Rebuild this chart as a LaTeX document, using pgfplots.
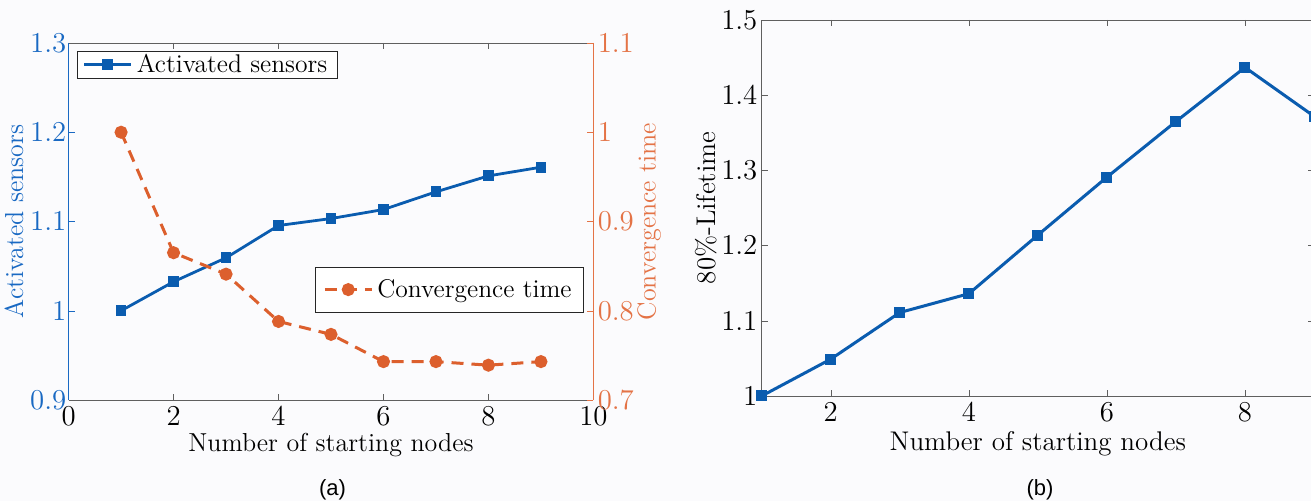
\documentclass[border=0pt]{standalone}
\usepackage{fontspec}
\usepackage{pgfplots}
\pgfplotsset{compat=1.18}
\newfontfamily\arial{Liberation Sans}
\definecolor{lblue}{RGB}{10,92,175}
\definecolor{tblue}{RGB}{25,105,195}
\definecolor{lorange}{RGB}{220,95,45}
\definecolor{torange}{RGB}{228,115,70}
\definecolor{bg}{RGB}{251,251,253}
\definecolor{spine}{RGB}{95,95,95}
\pgfplotsset{
  mystyle/.style={
    scale only axis,
    tick align=inside,
    major tick length=3pt,
    tick label style={font=\fontsize{14.5}{16}\selectfont},
    legend style={font=\fontsize{12.8}{15}\selectfont},
    legend cell align=left,
    legend image code/.code={\draw[mark repeat=2,mark phase=2,##1] plot coordinates {(0pt,0pt) (11.75pt,0pt) (23.5pt,0pt)};},
  }
}
\begin{document}
\begin{tikzpicture}
\fill[bg] (0,0) rectangle (655.5pt,250.5pt);
\useasboundingbox (0,0) rectangle (655.5pt,250.5pt);

% ---------- panel (a), left axis ----------
\begin{axis}[mystyle,
  at={(34.3pt,50.5pt)}, anchor=south west, width=262.4pt, height=178.5pt,
  xmin=0, xmax=10, ymin=0.9, ymax=1.3,
  xtick={0,2,4,6,8,10}, ytick={0.9,1,1.1,1.2,1.3},
  axis x line=box, axis y line*=left,
  x axis line style={draw=spine},
  y axis line style={draw=tblue},
  y tick style={tblue},
  x tick style={spine},
  yticklabel style={text=tblue, inner xsep=1pt},
  xlabel={Number of starting nodes},
  every axis x label/.style={at={(axis description cs:0.5,-0.145)}, anchor=base, font=\fontsize{13}{15}\selectfont},
  ylabel={Activated sensors},
  every axis y label/.style={at={(axis description cs:-0.104,0.5)}, anchor=center, rotate=90, font=\fontsize{13}{15}\selectfont, text=tblue},
  legend style={at={(0.0152,0.978)}, anchor=north west, draw=black!85, fill=white,
    inner xsep=3pt, inner ysep=0pt, nodes={inner ysep=1.5pt}},
]
\addplot[lblue, line width=1.4pt, mark=square*, mark size=2pt, mark options={solid}]
 coordinates {(1,1.000) (2,1.0325) (3,1.0593) (4,1.0955) (5,1.1033) (6,1.1134) (7,1.1332) (8,1.1511) (9,1.1608)};
\addlegendentry{Activated sensors}
\end{axis}

% ---------- panel (a), right axis ----------
\begin{axis}[mystyle,
  at={(34.3pt,50.5pt)}, anchor=south west, width=262.4pt, height=178.5pt,
  xmin=0, xmax=10, ymin=0.7, ymax=1.1,
  ytick={0.7,0.8,0.9,1,1.1},
  axis x line=none, axis y line*=right,
  y axis line style={draw=torange},
  y tick style={torange},
  yticklabel style={text=torange, inner xsep=2pt},
  ylabel={Convergence time},
  every axis y label/.style={at={(axis description cs:1.106,0.5)}, anchor=center, rotate=90, font=\fontsize{13}{15}\selectfont, text=torange},
  legend style={at={(0.982,0.3734)}, anchor=north east, draw=black!85, fill=white,
    inner xsep=4pt, inner ysep=3.5pt, nodes={inner ysep=2.5pt}},
]
\addplot[lorange, line width=1.5pt, dash pattern=on 6pt off 4pt, mark=*, mark size=2.5pt, mark options={solid}]
 coordinates {(1,1.000) (2,0.865) (3,0.841) (4,0.788) (5,0.7735) (6,0.743) (7,0.743) (8,0.739) (9,0.743)};
\addlegendentry{Convergence time}
\end{axis}

% ---------- panel (b) ----------
\begin{axis}[mystyle,
  at={(380.85pt,52.5pt)}, anchor=south west, width=276.15pt, height=188pt,
  xmin=1, xmax=9, ymin=1, ymax=1.5,
  xtick={2,4,6,8}, ytick={1,1.1,1.2,1.3,1.4,1.5},
  axis line style={draw=spine},
  tick style={spine},
  yticklabel style={inner xsep=2pt},
  xlabel={Number of starting nodes},
  every axis x label/.style={at={(axis description cs:0.5,-0.1455)}, anchor=base, font=\fontsize{13.5}{15}\selectfont},
  ylabel={80\%-Lifetime},
  every axis y label/.style={at={(axis description cs:-0.101,0.5)}, anchor=center, rotate=90, font=\fontsize{13.5}{15}\selectfont},
  clip=false,
]
\addplot[lblue, line width=1.5pt, mark=square*, mark size=2pt, mark options={solid}]
 coordinates {(1,1.000) (2,1.049) (3,1.111) (4,1.136) (5,1.214) (6,1.291) (7,1.365) (8,1.437) (9,1.372)};
\end{axis}

\node[font=\arial\fontsize{11}{13}\selectfont] at (166.25pt,5.5pt) {(a)};
\node[font=\arial\fontsize{11}{13}\selectfont] at (520pt,5.5pt) {(b)};
\end{tikzpicture}
\end{document}
